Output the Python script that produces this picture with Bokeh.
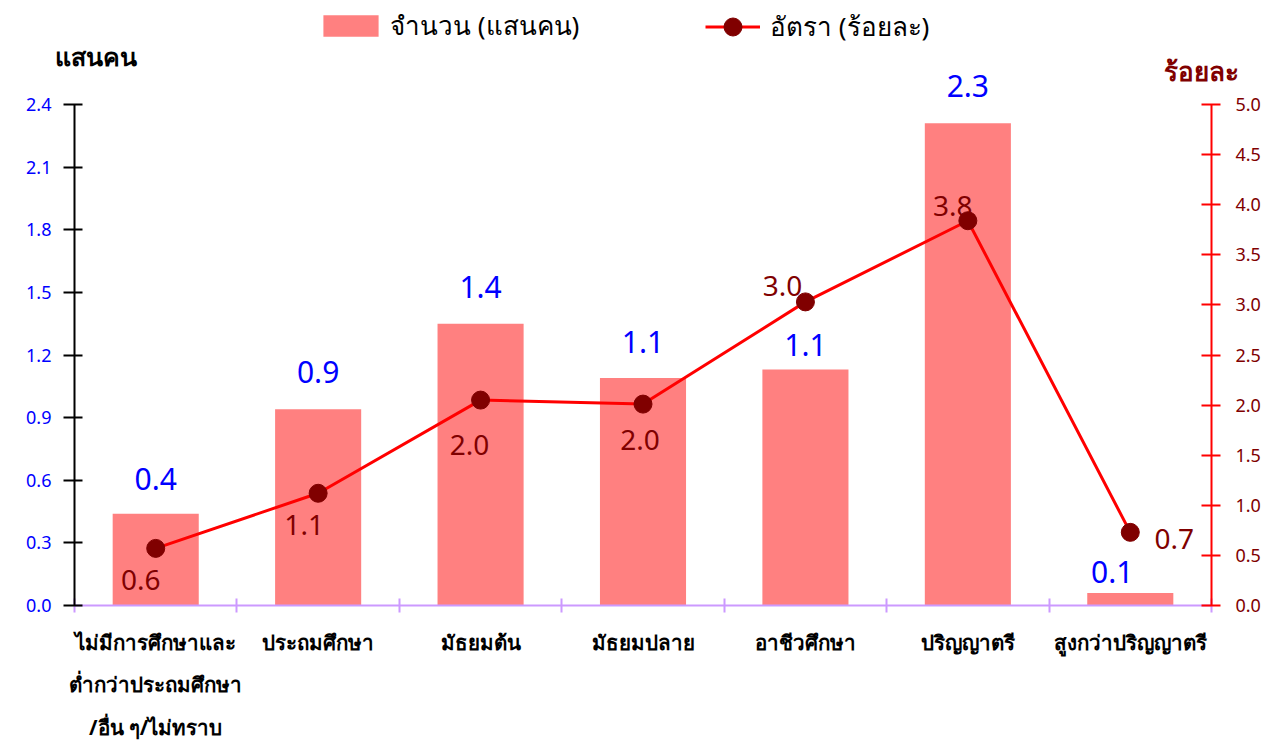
import numpy as np
from bokeh.plotting import figure
from bokeh.models import (Range1d, LinearAxis, FixedTicker,
                          ColumnDataSource, LabelSet, Label, Legend, LegendItem, NumeralTickFormatter)
from bokeh.embed import file_html
from bokeh.resources import INLINE
from bokeh.core.properties import value

# ---------------- data ----------------
categories = ["ไม่มีการศึกษาและ\nต่ำกว่าประถมศึกษา\n/อื่น ๆ/ไม่ทราบ", "ประถมศึกษา", "มัธยมต้น",
              "มัธยมปลาย", "อาชีวศึกษา", "ปริญญาตรี", "สูงกว่าปริญญาตรี"]
counts = [0.44, 0.94, 1.35, 1.09, 1.13, 2.31, 0.06]          # แสนคน
rates = [0.57, 1.12, 2.05, 2.01, 3.03, 3.84, 0.73]            # ร้อยละ
count_labels = ["0.4", "0.9", "1.4", "1.1", "1.1", "2.3", "0.1"]
rate_labels = ["0.6", "1.1", "2.0", "2.0", "3.0", "3.8", "0.7"]
left_ticks = [0.0, 0.3, 0.6, 0.9, 1.2, 1.5, 1.8, 2.1, 2.4]
right_ticks = [0.0, 0.5, 1.0, 1.5, 2.0, 2.5, 3.0, 3.5, 4.0, 4.5, 5.0]

# label placement (screen px offsets)
count_dx = [0, 0, 0, 0, 0, 0, -18]
count_dy = [35, 37, 37, 36, 25, 37, 21]
rate_dx = [-15, -14, -11, -3, -23, -15, 44]
rate_dy = [-32, -32, -45, -36, 16, 15, -7]

FONT = "Noto Sans"
n = len(categories)
centers = (np.arange(n) + 0.5).tolist()
edges = list(range(n + 1))

# layout geometry (pixels on the canvas)
W, H = 1267, 740
AX_L, AX_R, AX_B, AX_T = 74, 1211, 605, 104
ux = (AX_R - AX_L) / n
uyl = (AX_B - AX_T) / left_ticks[-1]
uyr = (AX_B - AX_T) / right_ticks[-1]

p = figure(frame_width=W, frame_height=H, min_border=0,
           x_range=Range1d(-AX_L / ux, (W - AX_L) / ux),
           y_range=Range1d(-(H - AX_B) / uyl, AX_B / uyl),
           x_axis_location=None, y_axis_location=None,
           output_backend="svg", toolbar_location=None)
p.outline_line_color = None
p.xgrid.visible = False
p.ygrid.visible = False
p.extra_y_ranges = {"rate": Range1d(-(H - AX_B) / uyr, AX_B / uyr)}

# category axis: labels at bar centres, ticks (minor) at category boundaries
cat_axis = LinearAxis(ticker=FixedTicker(ticks=centers, minor_ticks=edges), fixed_location=0,
                      bounds=(0, n),
                      major_label_overrides={c: name for c, name in zip(centers, categories)})
cat_axis.axis_line_color = "#CC99FF"
cat_axis.axis_line_width = 2
cat_axis.major_tick_line_color = None
cat_axis.major_tick_in = 0
cat_axis.major_tick_out = 0
cat_axis.minor_tick_line_color = "#CC99FF"
cat_axis.minor_tick_line_width = 2
cat_axis.minor_tick_in = 7
cat_axis.minor_tick_out = 7
cat_axis.major_label_standoff = 15
cat_axis.major_label_text_font = FONT
cat_axis.major_label_text_font_style = "bold"
cat_axis.major_label_text_font_size = "20.5px"
cat_axis.major_label_text_line_height = 1.52
cat_axis.major_label_text_color = "#000000"
p.add_layout(cat_axis, "below")

left_axis = LinearAxis(ticker=FixedTicker(ticks=left_ticks), bounds=(0, left_ticks[-1]),
                       fixed_location=0, formatter=NumeralTickFormatter(format="0.0"))
left_axis.axis_line_color = "#000000"
left_axis.axis_line_width = 2
left_axis.major_tick_line_color = "#000000"
left_axis.major_tick_line_width = 2
left_axis.major_tick_in = 8
left_axis.major_tick_out = 11
left_axis.minor_tick_line_color = None
left_axis.major_label_text_color = "#0000FF"
left_axis.major_label_text_font = FONT
left_axis.major_label_text_font_size = "18px"
left_axis.major_label_standoff = 12
p.add_layout(left_axis, "left")

right_axis = LinearAxis(y_range_name="rate", ticker=FixedTicker(ticks=right_ticks),
                        bounds=(0, right_ticks[-1]), fixed_location=n,
                        formatter=NumeralTickFormatter(format="0.0"))
right_axis.axis_line_color = "#FF0000"
right_axis.axis_line_width = 2
right_axis.major_tick_line_color = "#FF0000"
right_axis.major_tick_line_width = 2
right_axis.major_tick_in = 10
right_axis.major_tick_out = 9
right_axis.minor_tick_line_color = None
right_axis.major_label_text_color = "#800000"
right_axis.major_label_text_font = FONT
right_axis.major_label_text_font_size = "18px"
right_axis.major_label_standoff = 15
p.add_layout(right_axis, "right")

src = ColumnDataSource(dict(x=centers, counts=counts, rates=rates,
                            clab=count_labels, rlab=rate_labels,
                            cdx=count_dx, cdy=count_dy, rdx=rate_dx, rdy=rate_dy))

bars = p.vbar(x="x", top="counts", bottom=0, width=0.53, source=src, fill_color="#FF8080", line_color=None)
line = p.line(x="x", y="rates", source=src, line_color="#FF0000", line_width=3, y_range_name="rate")
pts = p.scatter(x="x", y="rates", source=src, size=18, fill_color="#800000", line_color="#800000",
                y_range_name="rate")

p.add_layout(LabelSet(x="x", y="counts", text="clab", source=src, x_offset="cdx", y_offset="cdy",
                      text_align="center", text_baseline="middle", text_color="#0000FF",
                      text_font=value(FONT), text_font_size="30px"))
p.add_layout(LabelSet(x="x", y="rates", text="rlab", source=src, x_offset="rdx", y_offset="rdy",
                      y_range_name="rate", text_align="center", text_baseline="middle",
                      text_color="#800000", text_font=value(FONT), text_font_size="28px"))

p.add_layout(Label(x=(95 - AX_L) / ux, y=(AX_B - 55) / uyl, text="แสนคน", text_align="center",
                   text_baseline="middle", text_font=FONT, text_font_style="bold",
                   text_font_size="25px", text_color="#000000"))
p.add_layout(Label(x=(1201 - AX_L) / ux, y=(AX_B - 70) / uyr, y_range_name="rate", text="ร้อยละ",
                   text_align="center", text_baseline="middle", text_font=FONT,
                   text_font_style="bold", text_font_size="26px", text_color="#800000"))

leg1 = Legend(items=[LegendItem(label="จำนวน (แสนคน)", renderers=[bars])],
              location=(316, H - 12 - 34))
leg2 = Legend(items=[LegendItem(label="อัตรา (ร้อยละ)", renderers=[line, pts])],
              location=(705, H - 4 - 45))
for lg, gw, gh, so in ((leg1, 69, 27, 5), (leg2, 55, 45, 10)):
    lg.border_line_color = None
    lg.background_fill_alpha = 0
    lg.margin = 0
    lg.padding = 0
    lg.glyph_width = gw
    lg.glyph_height = gh
    lg.label_text_font = FONT
    lg.label_text_font_size = "26px"
    lg.label_text_color = "#000000"
    lg.label_standoff = so
    p.add_layout(lg, "center")

open("out.html", "w").write(file_html(p, INLINE))
